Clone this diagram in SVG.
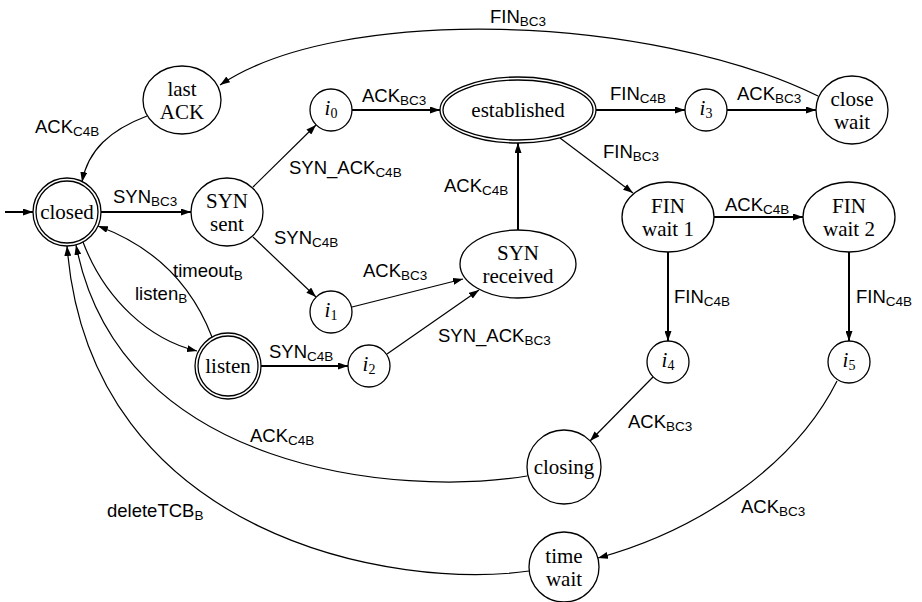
<svg xmlns="http://www.w3.org/2000/svg" width="922" height="602" viewBox="0 0 922 602">
<style>
  .node { fill: #fff; stroke: #000; stroke-width: 1.3; }
  .nt { font-family: "Liberation Serif", "DejaVu Serif", serif; font-size: 21px; text-anchor: middle; fill: #000; }
  .it { font-style: italic; }
  .lb { font-family: "Liberation Sans", "DejaVu Sans", sans-serif; font-size: 18.5px; fill: #000; }
  .sub { font-size: 13.5px; }
  .e { fill: none; stroke: #000; stroke-width: 1.2; marker-end: url(#ah); }
  .E { fill: none; stroke: #000; stroke-width: 2; marker-end: url(#ah); }
</style>
<defs>
  <marker id="ah" viewBox="0 0 10 7" refX="10" refY="3.5" markerWidth="10" markerHeight="7" markerUnits="userSpaceOnUse" orient="auto">
    <path d="M0,0 L10,3.5 L0,7 z" fill="#000"/>
  </marker>
</defs>
<rect width="922" height="602" fill="#fff"/>

<!-- transitions -->
<g id="edges">
  <path class="E" d="M 5 212 L 33 212"/>
  <path class="E" d="M 101 212 L 191 212"/>
  <path class="e" d="M 253 187 L 316 125"/>
  <path class="e" d="M 253 237 L 316 297"/>
  <path class="E" d="M 352 110 L 440 110"/>
  <path class="e" d="M 352 307 L 463 279"/>
  <path class="e" d="M 387 354 L 479 290"/>
  <path class="E" d="M 518 230 L 518 143"/>
  <path class="E" d="M 596 110 L 685 110"/>
  <path class="E" d="M 727 110 L 816 110"/>
  <path class="e" d="M 560 138 L 633 193"/>
  <path class="E" d="M 714 217 L 803 217"/>
  <path class="E" d="M 668 252 L 668 341"/>
  <path class="E" d="M 849 252 L 849 341"/>
  <path class="e" d="M 653 377 L 590 441"/>
  <path class="e" d="M 837 381 C 795 465, 700 530, 598 558"/>
  <path class="E" d="M 261 366 L 348 366"/>
  <path class="e" d="M 818 96 C 650 14, 340 4, 220 85"/>
  <path class="e" d="M 147 116 C 110 130, 88 150, 82 182"/>
  <path class="e" d="M 83 242 C 105 300, 150 340, 197 351"/>
  <path class="e" d="M 212 337 C 190 280, 150 245, 98 226"/>
  <path class="e" d="M 527 476 C 400 497, 120 472, 76 245"/>
  <path class="e" d="M 529 571 C 400 590, 90 540, 67 246"/>
</g>

<!-- transition labels -->
<g id="labels">
  <text class="lb" x="113" y="203">SYN<tspan class="sub" dy="3">BC3</tspan></text>
  <text class="lb" x="289" y="174">SYN_ACK<tspan class="sub" dy="3">C4B</tspan></text>
  <text class="lb" x="274" y="244">SYN<tspan class="sub" dy="3">C4B</tspan></text>
  <text class="lb" x="362" y="102">ACK<tspan class="sub" dy="3">BC3</tspan></text>
  <text class="lb" x="444" y="192">ACK<tspan class="sub" dy="3">C4B</tspan></text>
  <text class="lb" x="363" y="277">ACK<tspan class="sub" dy="3">BC3</tspan></text>
  <text class="lb" x="438" y="342">SYN_ACK<tspan class="sub" dy="3">BC3</tspan></text>
  <text class="lb" x="173" y="277">timeout<tspan class="sub" dy="3">B</tspan></text>
  <text class="lb" x="135" y="300">listen<tspan class="sub" dy="3">B</tspan></text>
  <text class="lb" x="269" y="358">SYN<tspan class="sub" dy="3">C4B</tspan></text>
  <text class="lb" x="610" y="100">FIN<tspan class="sub" dy="3">C4B</tspan></text>
  <text class="lb" x="737" y="100">ACK<tspan class="sub" dy="3">BC3</tspan></text>
  <text class="lb" x="603" y="158">FIN<tspan class="sub" dy="3">BC3</tspan></text>
  <text class="lb" x="725" y="211">ACK<tspan class="sub" dy="3">C4B</tspan></text>
  <text class="lb" x="674" y="303">FIN<tspan class="sub" dy="3">C4B</tspan></text>
  <text class="lb" x="856" y="303">FIN<tspan class="sub" dy="3">C4B</tspan></text>
  <text class="lb" x="628" y="428">ACK<tspan class="sub" dy="3">BC3</tspan></text>
  <text class="lb" x="741" y="513">ACK<tspan class="sub" dy="3">BC3</tspan></text>
  <text class="lb" x="490" y="23">FIN<tspan class="sub" dy="3">BC3</tspan></text>
  <text class="lb" x="35" y="133">ACK<tspan class="sub" dy="3">C4B</tspan></text>
  <text class="lb" x="250" y="442">ACK<tspan class="sub" dy="3">C4B</tspan></text>
  <text class="lb" x="107" y="517">deleteTCB<tspan class="sub" dy="3">B</tspan></text>
</g>

<!-- states -->
<g id="closed">
  <circle class="node" cx="67" cy="212" r="34"/>
  <circle class="node" cx="67" cy="212" r="31"/>
  <text class="nt" x="67" y="219">closed</text>
</g>
<g id="last-ack">
  <ellipse class="node" cx="182" cy="100" rx="39" ry="34"/>
  <text class="nt" x="182" y="96">last</text>
  <text class="nt" x="182" y="119">ACK</text>
</g>
<g id="syn-sent">
  <ellipse class="node" cx="227" cy="212" rx="36" ry="34"/>
  <text class="nt" x="227" y="208">SYN</text>
  <text class="nt" x="227" y="231">sent</text>
</g>
<g id="i0">
  <circle class="node" cx="331" cy="110" r="21"/>
  <text class="nt" x="331" y="115"><tspan class="it">i</tspan><tspan font-size="14" dy="3">0</tspan></text>
</g>
<g id="i1">
  <circle class="node" cx="331" cy="312" r="21"/>
  <text class="nt" x="331" y="317"><tspan class="it">i</tspan><tspan font-size="14" dy="3">1</tspan></text>
</g>
<g id="listen">
  <circle class="node" cx="228" cy="366" r="33"/>
  <circle class="node" cx="228" cy="366" r="30"/>
  <text class="nt" x="228" y="373">listen</text>
</g>
<g id="i2">
  <circle class="node" cx="369" cy="366" r="21"/>
  <text class="nt" x="369" y="371"><tspan class="it">i</tspan><tspan font-size="14" dy="3">2</tspan></text>
</g>
<g id="established">
  <ellipse class="node" cx="518" cy="110" rx="78" ry="33"/>
  <ellipse class="node" cx="518" cy="110" rx="75" ry="30"/>
  <text class="nt" x="518" y="117">established</text>
</g>
<g id="syn-received">
  <ellipse class="node" cx="518" cy="264" rx="58" ry="34"/>
  <text class="nt" x="518" y="260">SYN</text>
  <text class="nt" x="518" y="283">received</text>
</g>
<g id="i3">
  <circle class="node" cx="706" cy="110" r="21"/>
  <text class="nt" x="706" y="115"><tspan class="it">i</tspan><tspan font-size="14" dy="3">3</tspan></text>
</g>
<g id="close-wait">
  <ellipse class="node" cx="852" cy="110" rx="36" ry="34"/>
  <text class="nt" x="852" y="106">close</text>
  <text class="nt" x="852" y="129">wait</text>
</g>
<g id="fin-wait-1">
  <ellipse class="node" cx="668" cy="217" rx="46" ry="35"/>
  <text class="nt" x="668" y="213">FIN</text>
  <text class="nt" x="668" y="236">wait 1</text>
</g>
<g id="fin-wait-2">
  <ellipse class="node" cx="849" cy="217" rx="46" ry="35"/>
  <text class="nt" x="849" y="213">FIN</text>
  <text class="nt" x="849" y="236">wait 2</text>
</g>
<g id="i4">
  <circle class="node" cx="668" cy="362" r="21"/>
  <text class="nt" x="668" y="367"><tspan class="it">i</tspan><tspan font-size="14" dy="3">4</tspan></text>
</g>
<g id="i5">
  <circle class="node" cx="849" cy="362" r="21"/>
  <text class="nt" x="849" y="367"><tspan class="it">i</tspan><tspan font-size="14" dy="3">5</tspan></text>
</g>
<g id="closing">
  <circle class="node" cx="564" cy="467" r="37"/>
  <text class="nt" x="564" y="474">closing</text>
</g>
<g id="time-wait">
  <circle class="node" cx="564" cy="567" r="35"/>
  <text class="nt" x="564" y="563">time</text>
  <text class="nt" x="564" y="586">wait</text>
</g>
</svg>
